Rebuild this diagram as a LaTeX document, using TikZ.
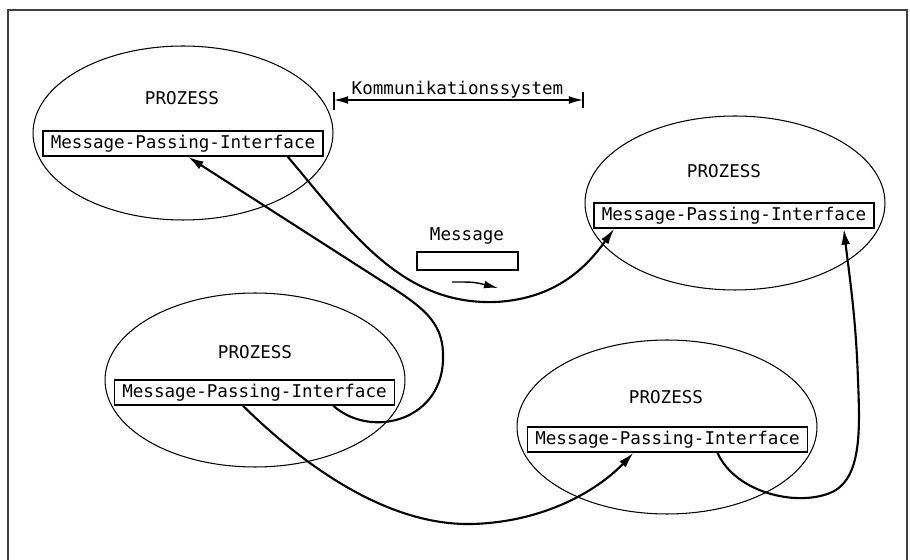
\documentclass[tikz,border=0pt]{standalone}
\usepackage{fontspec}
\setmonofont{DejaVu Sans Mono}
\usetikzlibrary{shapes.geometric,arrows.meta}
\tikzstyle{prozess} = [ellipse, draw=black, line width=0.6pt, minimum width=6cm,
minimum height=3.48cm, inner sep=0pt]
\tikzstyle{mpi} = [rectangle, draw=black, line width=0.9pt, minimum width=5.6cm,
minimum height=0.5cm, inner sep=0pt, font=\ttfamily\fontsize{10}{12}\selectfont]
\tikzstyle{msgbox} = [rectangle, draw=black, line width=0.9pt, minimum width=2.02cm,
minimum height=0.36cm, inner sep=0pt]
\tikzstyle{titel} = [anchor=base, inner sep=0pt, font=\ttfamily\fontsize{10}{12}\selectfont]
\tikzstyle{arrow} = [line width=1.2pt,-{Latex[length=9pt,width=5pt]}]
\tikzstyle{dim} = [line width=0.7pt,{Latex[length=8pt,width=4.4pt]}-{Latex[length=8pt,width=4.4pt]}]
\tikzstyle{frame} = [line width=0.7pt, draw=black!75]

\begin{document}
\begin{tikzpicture}[x=0.02cm, y=-0.02cm]
\useasboundingbox (0,0) rectangle (910,560);
\draw[frame] (8,560) -- (8,10) -- (907,10) -- (907,560);

\node[prozess] (p1) at (183,133) {};
\node[mpi] (m1) at (183,143.5) {Message-Passing-Interface};
\node[titel] (t1) at (182,105) {PROZESS};

\node[prozess] (p2) at (735,203) {};
\node[mpi] (m2) at (734,215.5) {Message-Passing-Interface};
\node[titel] (t2) at (724,178) {PROZESS};

\node[prozess] (p3) at (255,380) {};
\node[mpi] (m3) at (254.5,392.5) {Message-Passing-Interface};
\node[titel] (t3) at (255,359) {PROZESS};

\node[prozess] (p4) at (667,427) {};
\node[mpi] (m4) at (667.5,439.5) {Message-Passing-Interface};
\node[titel] (t4) at (666,404) {PROZESS};

% Kommunikationssystem
\coordinate (kl) at (334,100);
\coordinate (kr) at (583,100);
\draw[dim] (kl) -- (kr);
\draw[line width=0.7pt] (kl) ++(0,-8) -- ++(0,18);
\draw[line width=0.7pt] (kr) ++(0,-8) -- ++(0,16);
\node[titel] (ktxt) at (457.5,95) {Kommunikationssystem};

% Message
\node[titel] (mtxt) at (467,241) {Message};
\node[msgbox] (msg) at (467.5,261) {};
\coordinate (mflow) at (452,282);
\coordinate (mflowend) at (498,288);
\draw[line width=0.8pt,-{Latex[length=8pt,width=4.4pt]}] (mflow) .. controls (474,282) .. (mflowend);

\draw [arrow]([xshift=-0.72cm]m1.south east) .. controls (350,230) and (400,305) .. (495,302)
  .. controls (560,299) and (590,262) .. ([xshift=0.42cm]m2.south west);
\draw [arrow]([xshift=-1.24cm]m3.south east) .. controls (372,440) and (445,420) .. (443,355)
  .. controls (443,320) and (420,305) .. (377,278) -- ([xshift=0.1cm]m1.south);
\draw [arrow]([xshift=-0.23cm]m3.south) .. controls (300,462) and (385,526) .. (472,524)
  .. controls (545,522) and (598,490) .. ([xshift=-0.68cm]m4.south);
\draw [arrow]([xshift=1cm]m4.south) .. controls (735,492) and (795,507) .. (830,493)
  .. controls (862,480) and (860,430) .. (858,380)
  .. controls (856,320) and (850,280) .. ([xshift=-0.62cm]m2.south east);
\end{tikzpicture}
\end{document}
